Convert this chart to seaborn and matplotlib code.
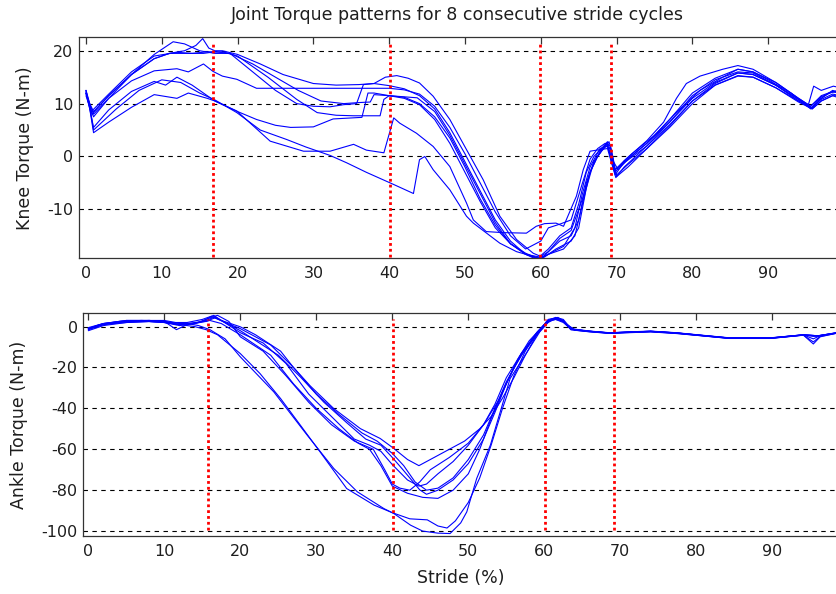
import matplotlib
matplotlib.use("Agg")
import matplotlib.pyplot as plt
import numpy as np
import pandas as pd
import seaborn as sns

# ---------------- text ----------------
TITLE = "Joint Torque patterns for 8 consecutive stride cycles"
X_LABEL = "Stride (%)"
KNEE_LABEL = "Knee Torque (N-m)"
ANKLE_LABEL = "Ankle Torque (N-m)"

x_ticks = [0, 10, 20, 30, 40, 50, 60, 70, 80, 90]
knee_yticks = [-10, 0, 10, 20]
ankle_yticks = [-100, -80, -60, -40, -20, 0]

# gait event markers (stride %)
knee_events = [16.8, 40.05, 59.9, 69.3]
ankle_events = [15.8, 40.1, 60.1, 69.2]

# ---------------- knee torque, 8 cycles ----------------
knee1_x = [0, 0.5, 1, 3, 6, 9, 11, 13, 14.5, 15.4, 16.2, 17, 18, 20, 23, 26, 30, 33, 36, 38,
           39.5, 41, 42.5, 44, 45.8, 48, 50.2, 52.4, 54.6, 56.8, 59, 60, 61, 62.5, 64, 65.5, 66.5, 67.8, 68.7, 69.3,
           69.8, 70.5, 72, 75, 78, 81, 84, 86, 88, 90, 93, 95.6, 96.5, 98, 99.5]
knee1_y = [12.5, 10, 8.5, 11.5, 15.5, 18.5, 19.5, 20, 21, 22.3, 20.5, 20, 20, 19.3, 17.5, 15.5, 13.8, 13.5, 13.6, 13.8,
           15, 15.3, 14.8, 13.9, 11.4, 7, 1.3, -4.4, -11.3, -15.7, -18.3, -18.9, -18, -15.5, -14, -8, -3, 1, 2.5, 0,
           -2.5, -1.5, 0.5, 4, 8.5, 12.5, 15, 16.5, 16, 14.5, 12, 9, 10.5, 12, 12.5]

knee2_x = [0, 0.6, 1, 3, 6, 9, 11.5, 13, 15, 17, 19, 22, 25, 27.8, 30, 32.2, 34, 35.7, 36.6, 38,
           40, 42, 44, 46, 48, 50, 52, 54, 56, 58, 59.5, 61, 63, 64.5, 65.5, 66.5, 67.8, 68.8, 69.4, 69.8,
           71, 74, 77, 80, 83, 86, 88, 91, 94, 95.8, 97, 98.5, 99.5]
knee2_y = [12, 9.5, 8, 11, 15.5, 19.3, 21.7, 21.3, 20, 19.5, 19.5, 16, 12.5, 10, 9.5, 9.4, 9.8, 10, 13.6, 13.8,
           13.4, 12.8, 11.5, 9, 4.5, -1, -6.5, -12, -16, -18.5, -19.3, -18.5, -17, -13.5, -7, -2, 1.5, 2, -1, -3.5,
           -1, 2.5, 6.5, 11, 14, 15.8, 15.5, 13.5, 10.5, 9.2, 11, 12.5, 12]

knee3_x = [0, 0.8, 3, 6, 9, 11, 14, 16, 18, 20, 24, 27.8, 30.5, 33, 35.3, 38.8, 39.3, 40, 42, 44,
           46, 48, 50, 52, 54, 56, 58, 60, 61, 62.5, 64, 65, 66, 67, 68, 68.8, 69.4, 69.9, 71, 74,
           77, 80, 83, 86, 88, 91, 94, 95.8, 97, 98.5, 99.5]
knee3_y = [11.5, 8, 11.5, 15.5, 18.5, 19.5, 19.5, 19.8, 19.8, 19, 15, 10.8, 8.3, 7.8, 7.7, 7.7, 10.8, 11.5, 11.2, 10,
           7.5, 3.5, -2, -8, -13, -16.5, -18.3, -19.5, -18, -16, -15, -12, -5, -1, 1, 2.2, -1.5, -4, -2, 2,
           6, 10.5, 13.5, 15.2, 15, 13, 10.5, 9, 10.5, 11.5, 11]

knee4_x = [0, 0.5, 1, 3, 6, 9, 10.5, 12, 14, 16, 17, 20, 22.5, 25, 27, 30, 32.6, 36.4, 37.2, 38,
           40, 42, 44, 46, 48, 50, 52, 54, 56, 58, 59.8, 61, 62.5, 64, 65, 66, 67, 68, 68.8, 69.3,
           69.8, 71, 74, 77, 80, 83, 86, 88, 91, 94, 95.6, 97, 98.5, 99.5]
knee4_y = [12, 9, 5.5, 8.8, 12.3, 14.2, 13.5, 15, 13.5, 11.5, 10.5, 8.5, 7, 5.9, 5.5, 5.6, 7.1, 7.4, 12, 12,
           11.5, 11, 9.8, 7, 2.5, -3, -8.5, -13.5, -16.5, -18.5, -19, -17.5, -15, -13.5, -9, -3, 0, 1.5, 2.8, 0.5,
           -2.5, -1.2, 2, 6.5, 11.5, 14.5, 16, 15.8, 13.5, 10.8, 9.5, 11.5, 12.3, 12.5]

knee5_x = [0, 0.5, 1, 3, 6, 9, 12, 13.5, 16, 17, 19.9, 24.3, 28.7, 32.2, 35.3, 37, 39.3, 40.6, 41.4, 43.6,
           45.8, 48, 50.2, 51.1, 52.8, 55, 58.1, 59.4, 60.5, 62, 63, 64.7, 65.6, 66.5, 67.8, 68.8, 69.3, 69.8, 71, 74,
           76.2, 77.9, 79.2, 81, 84, 86, 88, 91, 94, 95.3, 96, 97, 98.6, 99.5]
knee5_y = [12.5, 9, 4.5, 6.5, 9.3, 11.7, 11, 12, 11, 10.5, 8.6, 2.9, 1, 1, 2.3, 1.2, 0.7, 7.3, 6.3, 4.4,
           1.9, -1.9, -8.8, -12, -14.2, -14.4, -14.5, -13.2, -12.7, -12.6, -13.2, -7.5, -2.5, 1, 1.3, 1.5, -1, -3, -0.8, 3,
           6.5, 11, 13.8, 15.2, 16.5, 17.2, 16.5, 14, 11, 9.8, 13.3, 12.5, 13.3, 13]

knee6_x = [0, 0.5, 1, 4, 7, 10, 12.5, 15, 17, 19.9, 23, 26.5, 29, 32.2, 34.4, 37, 40.6, 43.2, 44, 44.7,
           45.8, 48, 50.2, 51.1, 54.6, 56.8, 59, 60, 61, 63, 64.5, 65.5, 66.5, 67.5, 68.5, 69.2, 69.6, 70, 71.5, 74,
           77, 80, 83, 86, 88, 91, 94, 95.8, 97, 98.5, 99.5]
knee6_y = [12, 9.5, 5, 9, 12.5, 14.5, 14, 12, 10.7, 8.3, 5, 3.2, 1.8, 0.2, -1.2, -3, -5.3, -7, -0.6, 0,
           -2.5, -6.3, -11.3, -12.6, -16.4, -18, -18.9, -19.3, -18.5, -17.5, -15, -9, -3, 0, 2, 1.5, -2, -3.5, -1.5, 1.5,
           5.5, 10, 13.5, 15.3, 15, 13, 10.3, 9, 10.5, 11.5, 11.5]

knee7_x = [0, 0.6, 1, 3, 6, 9, 12, 13.5, 15.5, 16.75, 18, 19.9, 22.5, 26, 30, 35, 40, 42, 44, 46,
           48, 50, 52, 54, 56, 58, 60, 61, 62.5, 64, 65.5, 66.5, 67.5, 68.5, 69.2, 69.6, 70.2, 71.5, 74, 77,
           80, 83, 86, 88, 91, 94, 95.6, 97, 98.5, 99.5]
knee7_y = [12, 9, 7.5, 11, 14.3, 16.2, 16.6, 16, 17.5, 16.1, 15.2, 14.6, 12.9, 12.9, 12.9, 12.9, 12.9, 12.6, 11.8, 9.5,
           5.5, 0.5, -5, -10.5, -15, -17.5, -16, -13.5, -12.8, -12, -5, -0.5, 1.5, 2.5, 2, -1, -2.5, -0.5, 2.5, 7,
           12, 14.8, 16.5, 16, 14, 11, 9.5, 11.3, 12.2, 12]

knee8_x = [0, 0.7, 3, 6, 9, 12, 14, 15.5, 17, 19, 22, 25, 28, 31, 34, 36, 37.5, 38, 40, 43.7,
           46, 48, 50, 52, 54, 56, 58, 59.5, 60.5, 62, 64, 65, 66, 67, 68.2, 69, 69.5, 70, 71.5, 74,
           77, 80, 83, 86, 88, 91, 94, 95.7, 97, 98.5, 99.5]
knee8_y = [12.5, 8.5, 11.8, 16, 19, 19.7, 19.5, 19.5, 19.8, 19.5, 17.5, 15, 12.5, 10.5, 10, 10.2, 10.3, 11.7, 11.5, 11.1,
           8.5, 4, -1.5, -7, -12.5, -16.5, -18.5, -19.5, -19, -17.5, -16, -13.5, -6, -1, 1.5, 2.8, 0, -3.8, -2, 1.5,
           5.8, 10.5, 13.8, 15.8, 15.5, 13.5, 10.8, 9.2, 10.8, 11.8, 11.5]

# ---------------- ankle torque, 8 cycles ----------------
ankle1_x = [0, 1, 2.5, 5, 8, 10, 12, 14, 15.5, 17, 20, 22.6, 25.3, 27.9, 30.5, 34, 37.6, 40, 42.3, 44.6,
            46, 47.2, 48.3, 50, 51.5, 53, 54.5, 56, 57.5, 59, 60.5, 61.5, 62.5, 63.5, 66, 68.6, 71, 74, 77.4, 81,
            84.4, 89.7, 94.1, 95.4, 96.3, 98.4, 99.5]
ankle1_y = [-1.5, 0, 1.5, 2.5, 2.5, 2, 1, 0, -1.5, -4, -13.2, -23, -35.2, -48.2, -61.3, -79.2, -87.3, -91, -94, -94.5,
            -97.5, -98.5, -95, -86, -74, -58, -40, -24, -12, -3, 2.5, 3.5, 2, -1.2, -2.3, -3.2, -2.8, -2.4, -3.2, -4.5,
            -5.7, -5.7, -4.1, -4.8, -4.5, -3.2, -3]

ankle2_x = [0, 1.5, 4, 7, 10, 11.6, 13, 14.5, 16, 18, 20, 24.4, 28.8, 32.3, 35.4, 38.9, 40.2, 42.4, 44, 46,
            47.6, 49, 49.8, 51.1, 52.9, 54.2, 55.5, 57.2, 59.4, 60.5, 61.5, 62.5, 63.5, 66, 68.6, 71, 74, 77.4, 81, 84.4,
            89.7, 94.1, 95.4, 96.3, 98.4, 99.5]
ankle2_y = [-1, 1, 2.5, 3, 2.5, 1, 1.5, 0.5, -1.5, -6, -14.8, -31.9, -53.1, -69.4, -80.8, -89, -91.4, -97.1, -100, -101,
            -101.2, -96, -90.6, -74.3, -58, -41.7, -25.4, -15.6, -2.6, 2, 4, 3, -1.5, -2.6, -3.3, -3, -2.6, -3.4, -4.6, -5.8,
            -5.8, -4.2, -7.5, -4.8, -3.3, -3.2]

ankle3_x = [0, 2, 5, 8, 10, 11.5, 13, 15, 16.5, 17.5, 20, 22, 25.3, 27, 29.2, 32.3, 35.8, 38.4, 40.2, 42,
            43.5, 45, 47, 49.5, 51.5, 53, 54.5, 56, 57.5, 59, 60.3, 61.5, 62.5, 63.5, 66, 68.6, 71, 74, 77.4, 81,
            84.4, 89.7, 94.1, 96, 98.4, 99.5]
ankle3_y = [-1, 1.5, 3, 3, 3, 2, 2, 3.5, 5.5, 3, -0.1, -4, -12, -20, -29, -40.1, -49.9, -54.7, -59.6, -65,
            -68, -65, -61, -56, -50, -44, -35, -25, -14, -4, 2.5, 4.5, 3.5, -1, -2.2, -3, -2.6, -2.2, -3, -4.3,
            -5.5, -5.5, -4, -4.5, -3, -2.8]

ankle4_x = [0, 2, 5, 8, 10, 12, 14, 15.5, 16.5, 18, 20, 25, 28, 31, 34, 36.5, 38.5, 40, 41.4, 43.6,
            44.5, 46, 48, 50, 52, 53.5, 55, 56.5, 58, 60, 61, 62.3, 63.5, 66, 68.6, 71, 74, 77.4, 81, 84.4,
            89.7, 94.1, 95.4, 96.3, 98.4, 99.5]
ankle4_y = [-1.5, 1, 2.5, 2.5, 2.5, 1.5, 1.5, 3, 4.5, 2, -2, -14, -25, -37, -47, -55, -58, -64, -70, -79.8,
            -82, -80, -75, -67, -55, -42, -28, -16, -7, 1, 3.5, 3.5, -1.3, -2.3, -3.1, -2.7, -2.3, -3.1, -4.4, -5.6,
            -5.6, -4.1, -6, -4.4, -3.1, -3]

ankle5_x = [0, 2, 5, 8, 10, 11.6, 13, 15, 16.2, 17.5, 20, 23, 26, 29, 32, 35, 37, 38.5, 40, 42,
            43.5, 44.5, 46, 48, 50, 52, 53.5, 55, 57, 59, 60.5, 61.5, 62.5, 63.5, 66, 68.6, 71, 74, 77.4, 81,
            84.4, 89.7, 94.1, 96, 98.4, 99.5]
ankle5_y = [-0.5, 1.5, 2.5, 3, 2.5, -1.5, 1, 2.5, 5, 3, -3, -8, -18, -33, -44, -55, -58, -61, -67.5, -75,
            -78, -77, -72, -66, -58, -48, -38, -25, -13, -3, 3, 4, 2.5, -1.5, -2.4, -3.2, -2.8, -2.4, -3.2, -4.5,
            -5.7, -5.7, -4.1, -4.6, -3.2, -3]

ankle6_x = [0, 2, 5, 8, 10, 12, 14, 15.8, 17, 18.5, 20, 23, 26, 29, 32, 35, 37.5, 39, 40, 41,
            42.3, 43.6, 45, 47.5, 50, 52, 54, 55.5, 57, 59, 60.5, 61.8, 63, 64, 66, 68.6, 71, 74, 77.4, 81,
            84.4, 89.7, 94.1, 95.4, 96.3, 98.4, 99.5]
ankle6_y = [-1, 1, 2, 2.5, 2, 0.5, 1.5, 4, 5.5, 2.5, -5, -12, -24, -37, -48, -56, -60, -70, -77, -79,
            -80, -76, -70, -64, -57, -48, -36, -24, -13, -4, 3.5, 4.5, 1, -1.8, -2.5, -3.3, -2.9, -2.5, -3.3, -4.6,
            -5.8, -5.8, -4.2, -8.5, -5, -3.3, -3.1]

ankle7_x = [0, 2, 5, 8, 10, 12, 14, 16, 17.5, 20, 24, 27, 30, 33, 35.5, 37, 38.5, 40, 42, 44,
            46, 48, 50, 51.5, 53, 54.5, 56, 57.5, 59, 60.5, 61.5, 62.5, 63.5, 66, 68.6, 71, 74, 77.4, 81, 84.4,
            89.7, 94.1, 96, 98.4, 99.5]
ankle7_y = [-2, 0.5, 2, 2.5, 2, 1, 1.5, 3, 1.5, -4, -14, -28, -40, -50, -57, -60, -68, -78, -81.5, -83.5,
            -84, -80, -72, -60, -45, -32, -20, -11, -3, 3, 3.5, 2.5, -1.3, -2.3, -3.1, -2.7, -2.3, -3.1, -4.4, -5.6,
            -5.6, -4, -4.5, -3.1, -2.9]

ankle8_x = [0, 2, 5, 8, 10, 12, 14, 15.5, 16.8, 18, 20, 24, 27, 30, 33, 36, 38, 40, 41.5, 43,
            44.5, 46, 48, 50, 52, 53.5, 55, 57, 59, 60.8, 62, 63, 64, 66, 68.6, 71, 74, 77.4, 81, 84.4,
            89.7, 94.1, 96, 98.4, 99.5]
ankle8_y = [-1, 1.5, 3, 3, 2.5, 1, 2, 2.5, 4.5, 2, -1, -9, -20, -33, -43, -52, -56, -62, -68, -76,
            -80, -79, -74, -65, -53, -40, -27, -14, -4, 3.5, 4, 1, -1.5, -2.3, -3.1, -2.7, -2.3, -3.1, -4.4, -5.6,
            -5.6, -4, -4.5, -3.1, -2.9]

knee_series = [(knee1_x, knee1_y), (knee2_x, knee2_y), (knee3_x, knee3_y), (knee4_x, knee4_y),
               (knee5_x, knee5_y), (knee6_x, knee6_y), (knee7_x, knee7_y), (knee8_x, knee8_y)]
ankle_series = [(ankle1_x, ankle1_y), (ankle2_x, ankle2_y), (ankle3_x, ankle3_y), (ankle4_x, ankle4_y),
                (ankle5_x, ankle5_y), (ankle6_x, ankle6_y), (ankle7_x, ankle7_y), (ankle8_x, ankle8_y)]


def to_frame(series):
    frames = []
    for i, (xs, ys) in enumerate(series, start=1):
        frames.append(pd.DataFrame({"stride": xs, "torque": ys, "cycle": i}))
    return pd.concat(frames, ignore_index=True)


knee_df = to_frame(knee_series)
ankle_df = to_frame(ankle_series)

# ---------------- style ----------------
sns.set_theme(style="white")
plt.rcParams["font.family"] = ["DejaVu Sans"]
plt.rcParams["axes.unicode_minus"] = False
FS_TICK = 11.5
FS_LABEL = 12.5
TXT = "#1e1e1e"
SPINE = "#333333"
BLUE = "#0000ff"

W, H = 836, 594
fig = plt.figure(figsize=(W / 100, H / 100), dpi=100)
ax1 = fig.add_axes([79 / W, 1 - 258 / H, 765 / W, 221 / H])
ax2 = fig.add_axes([83.3 / W, 1 - 536 / H, 765 / W, 222.7 / H])

sns.lineplot(data=knee_df, x="stride", y="torque", units="cycle", estimator=None, sort=False,
             color=BLUE, linewidth=0.8, ax=ax1, legend=False)
sns.lineplot(data=ankle_df, x="stride", y="torque", units="cycle", estimator=None, sort=False,
             color=BLUE, linewidth=0.8, ax=ax2, legend=False)

ax1.set_xlim(-0.92, 100.0)
ax1.set_ylim(-19.2, 22.6)
ax2.set_xlim(-0.66, 100.0)
ax2.set_ylim(-102.4, 6.5)

for ax, yt, ev, (y0, y1) in ((ax1, knee_yticks, knee_events, (-19.0, 21.4)),
                             (ax2, ankle_yticks, ankle_events, (-99.6, 3.6))):
    ax.set_xticks(x_ticks)
    ax.set_yticks(yt)
    for v in yt:
        ax.axhline(v, color="black", linestyle=(0, (4, 4)), linewidth=0.8, zorder=0.5)
    ax.vlines(ev, y0, y1, colors="red", linestyles=(0, (1, 1.1)), linewidth=2.0, zorder=3)
    ax.grid(False)
    ax.set_xlabel("")
    ax.set_ylabel("")
    for s in ax.spines.values():
        s.set_color(SPINE)
        s.set_linewidth(0.9)
        s.set_visible(True)
    ax.tick_params(direction="in", length=5, width=0.9, top=True, right=True,
                   colors=SPINE, labelcolor=TXT, labelsize=FS_TICK)
    ax.tick_params(axis="x", pad=6)
    ax.tick_params(axis="y", pad=4)
    ax.set_facecolor("white")

fig.text(457 / W, 1 - 15 / H, TITLE, ha="center", va="center", fontsize=FS_LABEL, color=TXT)
fig.text(25 / W, 1 - 148 / H, KNEE_LABEL, rotation=90, ha="center", va="center", fontsize=FS_LABEL, color=TXT)
fig.text(19.5 / W, 1 - 425 / H, ANKLE_LABEL, rotation=90, ha="center", va="center", fontsize=FS_LABEL, color=TXT)
fig.text(461 / W, 1 - 578 / H, X_LABEL, ha="center", va="center", fontsize=FS_LABEL, color=TXT)

fig.savefig("out.png", dpi=100, facecolor="white")
